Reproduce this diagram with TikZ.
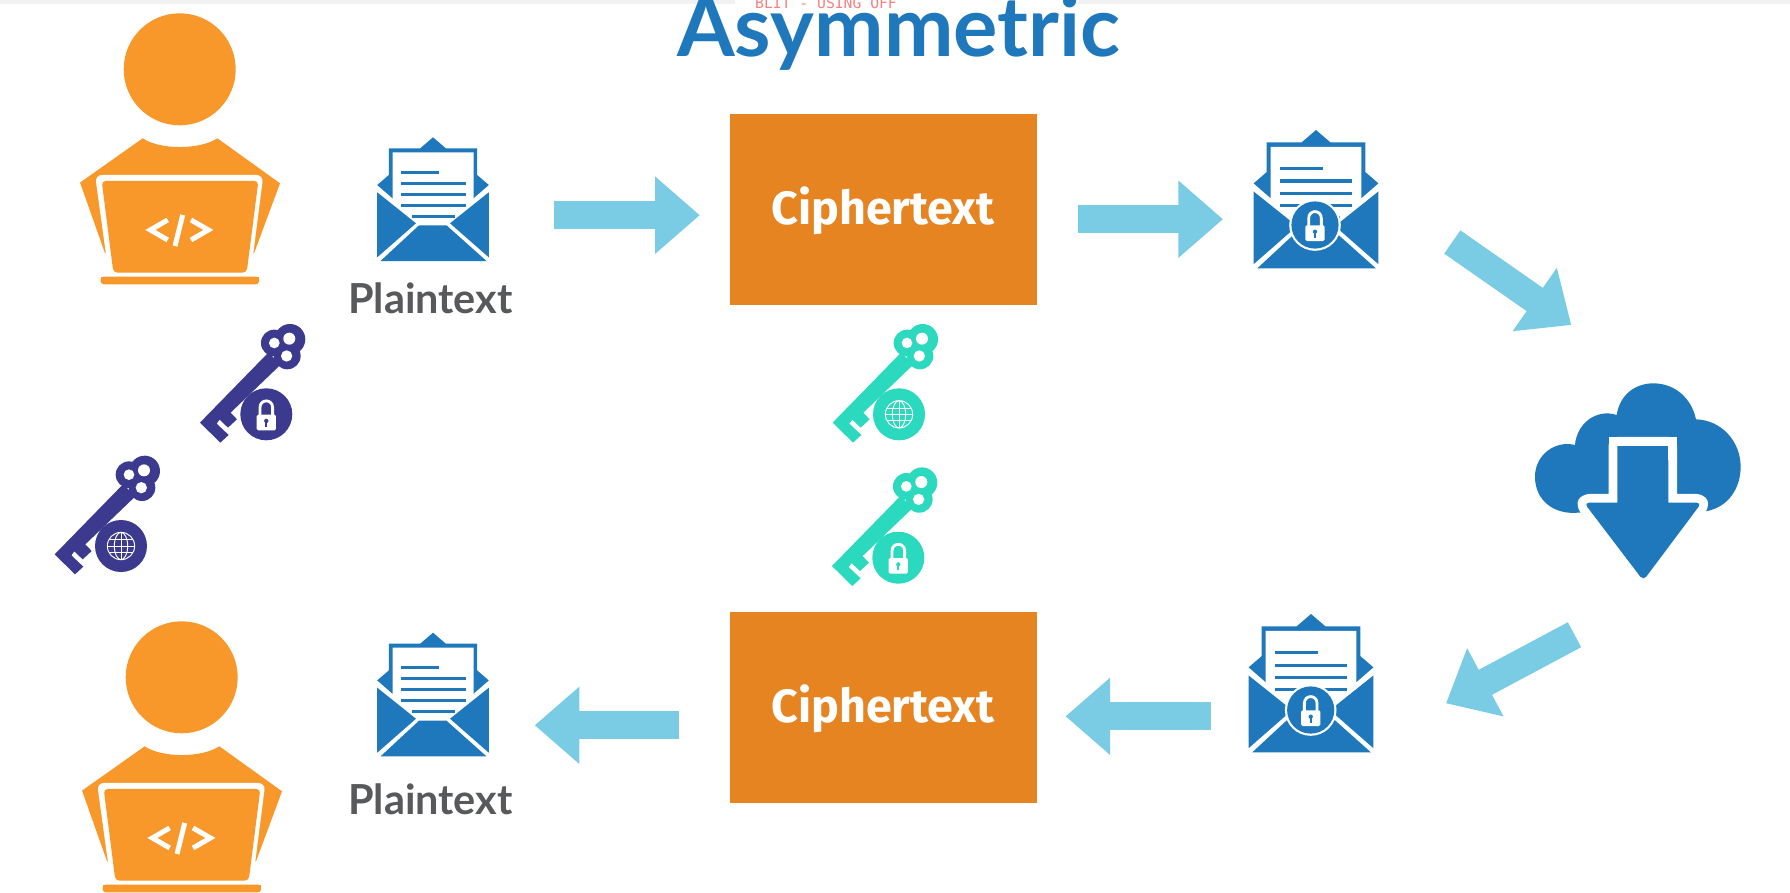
\documentclass[tikz,border=0pt]{standalone}
\usepackage{fontspec}
\usetikzlibrary{arrows.meta}
\newfontfamily\latofont{Lato}
\newfontfamily\firafont{Fira Sans}
\newfontfamily\monofont{DejaVu Sans Mono}
\definecolor{userorange}{HTML}{F9982A}
\definecolor{envblue}{HTML}{1F78BC}
\definecolor{keynavy}{HTML}{3B3A8F}
\definecolor{keyteal}{HTML}{2BD9BE}
\definecolor{arrowblue}{HTML}{79CCE4}
\definecolor{boxorange}{HTML}{E58420}
\definecolor{labelgrey}{HTML}{58595B}
\definecolor{stripgrey}{HTML}{F1F1F1}
\definecolor{redtext}{HTML}{F98080}
\tikzset{
  cipherbox/.style={fill=boxorange,draw=none,minimum width=307pt,minimum height=190.5pt,inner sep=0pt},
  ciphertxt/.style={text=white,font=\firafont\bfseries\fontsize{46.6}{54}\selectfont,anchor=base,inner sep=0pt},
  plainlabel/.style={text=labelgrey,font=\latofont\bfseries\fontsize{41.4}{50}\selectfont,anchor=base west,inner sep=0pt},
  fatarrow/.style={draw=arrowblue,line width=28.3pt,line cap=butt,
    -{Triangle[length=44.6pt,width=74.4pt,color=arrowblue]}},
}
% user figure: #1,#2 = head centre
\newcommand\userfig[2]{%
\begin{scope}[shift={(#1,#2)},x=.3333pt,y=-.3333pt]
  \fill[userorange] (0,0) circle[radius=168];
  \fill[userorange] (-111,207) .. controls (-60,242) and (60,242) .. (113,207)
     -- (301,342) -- (223,552) -- (-224,552) -- (-299,340) -- cycle;
  \fill[white,rounded corners=7pt] (-254,317) -- (251,317) -- (212,622) -- (-212,622) -- cycle;
  \fill[userorange,rounded corners=4pt] (-234,335) -- (236,335) -- (201,610) -- (-199,610) -- cycle;
  \fill[userorange,rounded corners=3pt] (-237,622) -- (238,622) -- (238,645) -- (-237,645) -- cycle;
  \fill[userorange] (-237,622) rectangle (238,632);
  \draw[white,line width=5pt,miter limit=10] (-36,452) -- (-88,482) -- (-36,512);
  \draw[white,line width=5pt,miter limit=10] (34,452) -- (86,482) -- (34,512);
  \draw[white,line width=5pt] (9,437) -- (-14,530);
\end{scope}}
% envelope: #1,#2 = apex, #3 = unit, #4 = rule width
\newcommand\envfig[4]{%
\begin{scope}[shift={(#1,#2)},x=#3,y=-#3]
  \fill[envblue] (0,0) -- (12.8,11) -- (44.2,11) -- (44.2,37.7) -- (55.8,47.7) -- (40.5,61)
     -- (-40.5,61) -- (-55.8,47.7) -- (-44.2,37.7) -- (-44.2,11) -- (-12.8,11) -- cycle;
  \fill[white] (-40.5,15) -- (40.5,15) -- (40.5,61) -- (13.5,84) -- (-13.5,84) -- (-40.5,61) -- cycle;
  \draw[envblue,line width=#4] (-32,34.7) -- (6.2,34.7);
  \draw[envblue,line width=#4] (-32,45.7) -- (32.5,45.7);
  \draw[envblue,line width=#4] (-32,56.7) -- (32.5,56.7);
  \draw[envblue,line width=#4] (-32,67.7) -- (32.5,67.7);
  \draw[envblue,line width=#4] (-21,78.7) -- (21.8,78.7);
  \fill[envblue] (-55.8,55) -- (-17,86) -- (-55.8,120) -- cycle;
  \fill[envblue] (55.8,55) -- (17,86) -- (55.8,120) -- cycle;
  \fill[envblue] (-52.5,123.7) -- (-14,88) -- (13.5,88) -- (53.5,123.7) -- cycle;
\end{scope}}
% padlock glyph around a centre, #3 = keyhole colour
\newcommand\lockglyph[3]{%
\begin{scope}[shift={(#1,#2)},x=.3333pt,y=-.3333pt]
  \draw[white,line width=2.8pt] (-19,4) -- (-19,-20) .. controls (-19,-47) and (19,-47) .. (19,-20) -- (19,4);
  \fill[white,rounded corners=1.5pt] (-29,1) rectangle (29,48);
  \fill[#3] (0,20) circle[radius=6.5];
  \fill[#3] (-3.5,22) rectangle (3.5,38);
\end{scope}}
% globe glyph
\newcommand\globeglyph[2]{%
\begin{scope}[shift={(#1,#2)},x=.3333pt,y=-.3333pt]
  \begin{scope}[white,line width=.95pt]
  \draw (0,0) circle[radius=41];
  \draw (0,0) ellipse[x radius=20,y radius=41];
  \draw (0,-41) -- (0,41);
  \draw (-41,0) -- (41,0);
  \draw (-36,-19) -- (36,-19);
  \draw (-36,19) -- (36,19);
  \end{scope}
\end{scope}}
% key with badge: #1,#2 = badge centre, #3 = colour
\newcommand\keyfig[3]{%
\begin{scope}[shift={(#1,#2)},x=.3333pt,y=-.3333pt]
  \fill[#3] (7,-186) -- (42,-148) -- (-107,-5) -- (-88,15) -- (-115,40) -- (-140,16) -- (-149,28)
     -- (-113,62) -- (-138,85) -- (-199,25) -- cycle;
  \fill[#3] (24,-214) circle[radius=40] (71,-225) circle[radius=46] (63,-175) circle[radius=40] (50,-200) circle[radius=38];
  \fill[white] (24,-214) circle[radius=16] (69,-227) circle[radius=18] (61,-175) circle[radius=17];
  \fill[#3] (0,0) circle[radius=78];
\end{scope}}
\begin{document}
\begin{tikzpicture}[x=1pt,y=-1pt]
\useasboundingbox (0,0) rectangle (1790,892);
\clip (0,0) rectangle (1790,892);
\fill[white] (0,0) rectangle (1790,892);
\fill[stripgrey] (0,0) rectangle (735,3.5);
\fill[stripgrey] (1077,0) rectangle (1790,3.5);

% title
\node[text=envblue,font=\latofont\bfseries\fontsize{83}{96}\selectfont,anchor=base west,inner sep=0pt] (title) at (677,56) {Asymmetric};
\node[text=redtext,font=\monofont\fontsize{14.7}{18}\selectfont,anchor=base west,inner sep=0pt] (overlay) at (755,8) {BLIT - USING OFF};

% users
\userfig{179.7}{69.3}
\userfig{181.7}{677.3}

% plain envelopes
\envfig{433}{137.3}{1pt}{3pt}
\envfig{433}{632.7}{1pt}{3pt}
\node[plainlabel] (plainA) at (348,313) {Plaintext};
\node[plainlabel] (plainB) at (348,814) {Plaintext};

% locked envelopes
\envfig{1316}{130}{1.118pt}{3.2pt}
\fill[white] (1315,225) circle[radius=25.8];
\fill[envblue] (1315,225) circle[radius=23.6];
\lockglyph{1315}{225}{envblue}
\envfig{1311}{614}{1.118pt}{3.2pt}
\fill[white] (1310.7,710) circle[radius=25.8];
\fill[envblue] (1310.7,710) circle[radius=23.6];
\lockglyph{1310.7}{710}{envblue}

% ciphertext boxes
\node[cipherbox,anchor=north west] (boxA) at (730,114) {};
\node[cipherbox,anchor=north west] (boxB) at (730,612) {};
\node[ciphertxt] (textA) at (883,224) {Ciphertext};
\node[ciphertxt] (textB) at (883,722) {Ciphertext};

% keys
\keyfig{266.3}{414.3}{keynavy}
\lockglyph{266.3}{414.3}{keynavy}
\keyfig{121}{546}{keynavy}
\globeglyph{121}{546}
\keyfig{899}{414.3}{keyteal}
\globeglyph{899}{414.3}
\keyfig{898.3}{557.7}{keyteal}
\lockglyph{898.3}{557.7}{keyteal}

% cloud
\begin{scope}[shift={(1420,360)},x=.3333pt,y=-.3333pt]
  \fill[envblue] (475,458) .. controls (400,465) and (345,420) .. (345,350)
     .. controls (345,285) and (405,240) .. (465,255)
     .. controls (470,190) and (530,145) .. (590,165)
     .. controls (600,100) and (650,70) .. (700,70)
     .. controls (765,70) and (815,115) .. (828,178)
     .. controls (905,180) and (962,245) .. (962,320)
     .. controls (962,385) and (925,440) .. (862,453) -- cycle;
  \path[fill=envblue,preaction={draw=white,line width=17.5pt,line join=round}]
     (592,257) -- (745,257) -- (745,428) [rounded corners=5pt] -- (845,428) -- (670,662) -- (492,428) [sharp corners] -- (592,428) -- cycle;
  \fill[white] (566,231) rectangle (592,300);
  \fill[white] (745,231) rectangle (771,300);
  \fill[white] (566,231) rectangle (771,257);
\end{scope}

% block arrows
\coordinate (a1s) at (554.3,215.2);  \coordinate (a1e) at (699.8,215.2);
\coordinate (a2s) at (1078,219.2);   \coordinate (a2e) at (1223,219.2);
\coordinate (a3s) at (1452.3,242);   \coordinate (a3e) at (1571.3,325);
\coordinate (a4s) at (1574.5,634.7); \coordinate (a4e) at (1446,703.3);
\coordinate (a5s) at (1210.5,716.3); \coordinate (a5e) at (1065.5,716.3);
\coordinate (a6s) at (679.3,725.3);  \coordinate (a6e) at (534.7,725.3);
\draw[fatarrow] (a1s) -- (a1e);
\draw[fatarrow] (a2s) -- (a2e);
\draw[fatarrow] (a3s) -- (a3e);
\draw[fatarrow] (a4s) -- (a4e);
\draw[fatarrow] (a5s) -- (a5e);
\draw[fatarrow] (a6s) -- (a6e);
\end{tikzpicture}
\end{document}
